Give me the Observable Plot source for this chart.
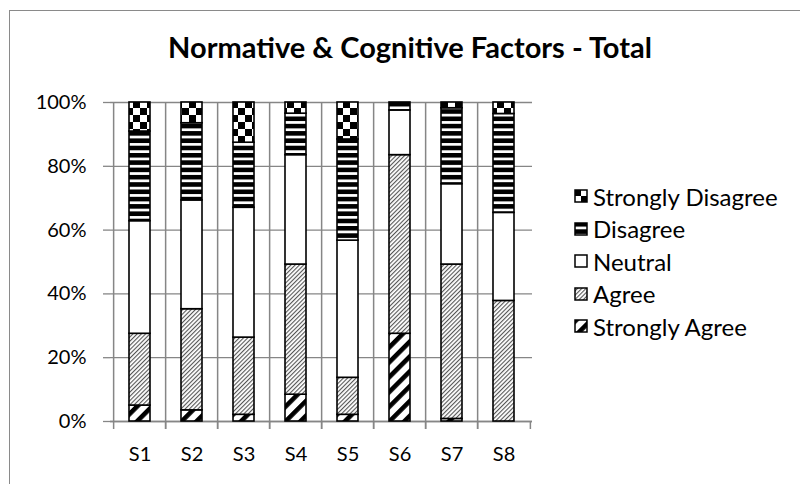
<!DOCTYPE html>
<html>
<head>
<meta charset="utf-8">
<script src="https://cdn.jsdelivr.net/npm/d3@7"></script>
<script src="https://cdn.jsdelivr.net/npm/@observablehq/plot@0.6"></script>
<style>
  html, body { margin: 0; padding: 0; background: #fff; }
  body { width: 800px; height: 484px; overflow: hidden; position: relative; font-family: Lato, "Open Sans", sans-serif; }
  #frame { position: absolute; left: 9px; top: 10px; width: 820px; height: 500px; border: 1.5px solid #8a8a8a; box-sizing: border-box; }
  #title { position: absolute; left: 0; top: 29px; width: 820px; text-align: center; font-weight: bold; font-size: 29px; line-height: 36px; color: #000; }
  #chart { position: absolute; left: 0; top: 80px; }
  #legend { position: absolute; left: 574px; top: 180px; font-size: 24px; color: #000; }
  .item { display: flex; align-items: center; height: 32.5px; }
  .item svg { margin-right: 5px; }
</style>
</head>
<body>
<div id="frame"></div>
<div id="title">Normative &amp; Cognitive Factors - Total</div>
<div id="chart"></div>
<div id="legend"></div>
<svg width="0" height="0" style="position:absolute">
  <defs>
    <pattern id="pSD" patternUnits="userSpaceOnUse" width="14" height="14">
      <rect width="14" height="14" fill="#fff"/>
      <rect x="0" y="0" width="7" height="7" fill="#000"/>
      <rect x="7" y="7" width="7" height="7" fill="#000"/>
    </pattern>
    <pattern id="pD" patternUnits="userSpaceOnUse" width="8" height="7.3">
      <rect width="8" height="7.3" fill="#000"/>
      <rect x="0" y="4.6" width="8" height="2.7" fill="#fff"/>
    </pattern>
    <pattern id="pN" patternUnits="userSpaceOnUse" width="4" height="4">
      <rect width="4" height="4" fill="#fff"/>
    </pattern>
    <pattern id="pA" patternUnits="userSpaceOnUse" width="3" height="3" patternTransform="rotate(45)">
      <rect width="3" height="3" fill="#fff"/>
      <rect x="0" y="0" width="1.1" height="3" fill="#555"/>
    </pattern>
    <pattern id="pSA" patternUnits="userSpaceOnUse" width="10.5" height="10.5" patternTransform="rotate(45)">
      <rect width="10.5" height="10.5" fill="#fff"/>
      <rect x="0" y="0" width="4.6" height="10.5" fill="#000"/>
    </pattern>
  </defs>
</svg>
<script>
const statements = ["S1", "S2", "S3", "S4", "S5", "S6", "S7", "S8"];
const responses = ["Strongly Agree", "Agree", "Neutral", "Disagree", "Strongly Disagree"];
const stronglyAgree    = [0.050, 0.035, 0.021, 0.084, 0.021, 0.275, 0.008, 0.000];
const agree            = [0.225, 0.317, 0.242, 0.408, 0.116, 0.560, 0.484, 0.378];
const neutral          = [0.353, 0.341, 0.407, 0.343, 0.430, 0.140, 0.252, 0.276];
const disagree         = [0.281, 0.242, 0.204, 0.130, 0.317, 0.025, 0.238, 0.310];
const stronglyDisagree = [0.091, 0.065, 0.126, 0.035, 0.116, 0.000, 0.018, 0.036];
const yTicks = [0, 0.2, 0.4, 0.6, 0.8, 1];
const patterns = ["url(#pSA)", "url(#pA)", "url(#pN)", "url(#pD)", "url(#pSD)"];

const seriesValues = [stronglyAgree, agree, neutral, disagree, stronglyDisagree];
const data = [];
statements.forEach((s, i) => {
  responses.forEach((r, j) => {
    data.push({statement: s, response: r, value: seriesValues[j][i]});
  });
});

const W = 800, mL = 110, mR = 268;
const step = (W - mL - mR) / statements.length;
const gray = "#868686";

const plot = Plot.plot({
  width: W,
  height: 391,
  marginLeft: mL,
  marginRight: mR,
  marginTop: 22,
  marginBottom: 50,
  style: {fontFamily: "Lato, 'Open Sans', sans-serif", fontSize: "20px", color: "#000", background: "transparent"},
  x: {domain: statements, paddingInner: 0.6, paddingOuter: 0.3, label: null},
  y: {domain: [0, 1], label: null},
  color: {type: "ordinal", domain: responses, range: patterns},
  marks: [
    Plot.gridY(yTicks, {stroke: gray, strokeOpacity: 1, strokeWidth: 1.3}),
    Plot.axisY(yTicks, {tickFormat: d3.format(".0%"), tickSize: 7, tickPadding: 17, stroke: gray, strokeWidth: 1.3, fontSize: 20, label: null}),
    Plot.ruleY([0], {stroke: gray, strokeWidth: 1.5}),
    Plot.barY(data, Plot.stackY({
      x: "statement", y: "value", fill: "response", order: responses,
      stroke: "#000", strokeWidth: 1.6
    })),
    Plot.ruleX(statements, {x: d => d, dx: -step / 2, y1: 1, y2: 0, insetBottom: -8, stroke: gray, strokeWidth: 1.5}),
    Plot.ruleX(statements.slice(1), {x: d => d, dx: -step / 2, y1: 0, y2: 0, insetBottom: -8, stroke: gray, strokeWidth: 1.5}),
    Plot.ruleX([statements[statements.length - 1]], {x: d => d, dx: step / 2, y1: 0, y2: 0, insetBottom: -8, stroke: gray, strokeWidth: 1.5}),
    Plot.axisX({tickSize: 0, tickPadding: 25, fontSize: 20, label: null})
  ]
});
document.getElementById("chart").appendChild(plot);

// legend (top to bottom: reversed stack order)
const legend = d3.select("#legend");
responses.slice().reverse().forEach((r) => {
  const idx = responses.indexOf(r);
  const item = legend.append("div").attr("class", "item");
  const sw = item.append("svg").attr("width", 14).attr("height", 14);
  sw.append("rect").attr("x", 1).attr("y", 1).attr("width", 12).attr("height", 12)
    .attr("fill", patterns[idx]).attr("stroke", "#000").attr("stroke-width", 1.5);
  item.append("span").text(r);
});
</script>
</body>
</html>
